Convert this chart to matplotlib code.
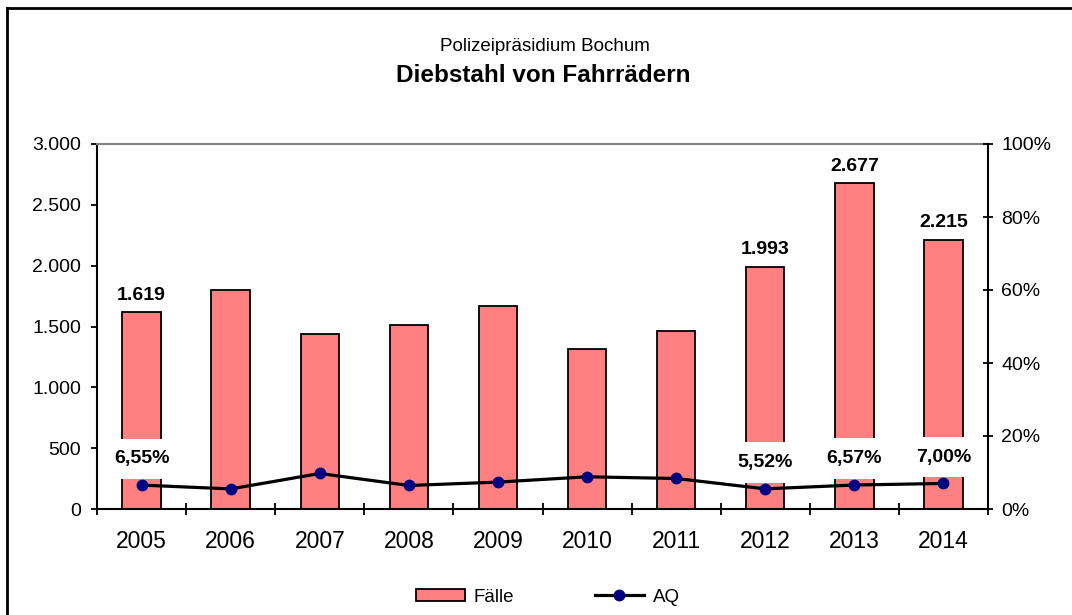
import matplotlib
matplotlib.use("Agg")
import matplotlib.pyplot as plt
from matplotlib.lines import Line2D
from matplotlib.patches import Patch
from matplotlib.ticker import FuncFormatter, FixedLocator
import numpy as np

plt.rcParams['font.family'] = ['Liberation Sans', 'DejaVu Sans']

years = ['2005', '2006', '2007', '2008', '2009', '2010', '2011', '2012', '2013', '2014']
faelle = [1619, 1800, 1441, 1509, 1665, 1312, 1466, 1993, 2677, 2215]
aq = [6.55, 5.50, 9.73, 6.44, 7.37, 8.82, 8.36, 5.52, 6.57, 7.00]
labeled = [0, 7, 8, 9]
subtitle = 'Polizeipräsidium Bochum'
title = 'Diebstahl von Fahrrädern'

W, H = 1072, 615
fig = plt.figure(figsize=(W / 100, H / 100), dpi=100)
ax = fig.add_axes([97 / W, 1 - 509 / H, (988 - 97) / W, (509 - 144) / H])
ax2 = ax.twinx()

x = np.arange(len(years))
ax.bar(x, faelle, width=0.43, color='#FF8080', edgecolor='black', linewidth=1.3, zorder=2)
ax.set_xlim(-0.5, len(years) - 0.5)
ax.set_ylim(0, 3000)
ax.set_yticks(np.arange(0, 3001, 500))
ax.yaxis.set_major_formatter(FuncFormatter(lambda v, p: f'{int(v):,}'.replace(',', '.')))
ax.set_xticks(x)
ax.set_xticklabels(years)
ax.xaxis.set_minor_locator(FixedLocator(np.arange(-0.5, len(years), 1.0)))
ax.tick_params(axis='x', which='major', length=0, pad=15, labelsize=16.5)
ax.tick_params(axis='x', which='minor', direction='inout', length=9, width=1.3)
ax.tick_params(axis='y', direction='out', length=4.5, width=1.3, pad=7, labelsize=14)

for s in ['left', 'bottom']:
    ax.spines[s].set_linewidth(1.5)
    ax.spines[s].set_color('black')
ax.spines['top'].set_color('#808080')
ax.spines['top'].set_linewidth(1.5)
ax.spines['right'].set_visible(False)

ax2.plot(x, [v / 100 for v in aq], color='black', linewidth=2.3, marker='o', markersize=7.5,
         markerfacecolor='#000080', markeredgecolor='#000080', zorder=3)
ax2.set_ylim(0, 1)
ax2.set_yticks(np.arange(0, 1.01, 0.2))
ax2.yaxis.set_major_formatter(FuncFormatter(lambda v, p: f'{int(round(v * 100))}%'))
ax2.tick_params(axis='y', direction='inout', length=7, width=1.3, pad=6, labelsize=14)
for s in ['left', 'top', 'bottom']:
    ax2.spines[s].set_visible(False)
ax2.spines['right'].set_linewidth(1.5)
ax2.spines['right'].set_color('black')

for i in labeled:
    ax.annotate(f'{faelle[i]:,}'.replace(',', '.'), (x[i], faelle[i]), xytext=(0, 9),
                textcoords='offset points', ha='center', va='baseline',
                fontsize=14, fontweight='bold')
    ax2.annotate(f'{aq[i]:.2f}%'.replace('.', ','), (x[i], aq[i] / 100), xytext=(0, 19),
                 textcoords='offset points', ha='center', va='center',
                 fontsize=14, fontweight='bold', zorder=5,
                 bbox=dict(boxstyle='square,pad=0.6', facecolor='white', edgecolor='none'))

fig.text(545 / W, 1 - 46.5 / H, subtitle, ha='center', va='center', fontsize=13.5)
fig.text(543 / W, 1 - 75 / H, title, ha='center', va='center', fontsize=17.5, fontweight='bold')

# outer frame (top and left edges)
fig.add_artist(Line2D([7 / W, 1], [1 - 8 / H, 1 - 8 / H], transform=fig.transFigure,
                      color='black', linewidth=2))
fig.add_artist(Line2D([7 / W, 7 / W], [0, 1 - 8 / H], transform=fig.transFigure,
                      color='black', linewidth=2))

handles = [Patch(facecolor='#FF8080', edgecolor='black', linewidth=1.3, label='Fälle'),
           Line2D([], [], color='black', linewidth=2.3, marker='o', markersize=7.5,
                  markerfacecolor='#000080', markeredgecolor='#000080', label='AQ')]
fig.legend(handles=handles, loc='center', bbox_to_anchor=(548 / W, 1 - 597 / H), ncol=2,
           frameon=False, fontsize=13.5, handlelength=2.6, handleheight=0.6,
           handletextpad=0.5, columnspacing=4.3)

fig.savefig('out.png', dpi=100)
